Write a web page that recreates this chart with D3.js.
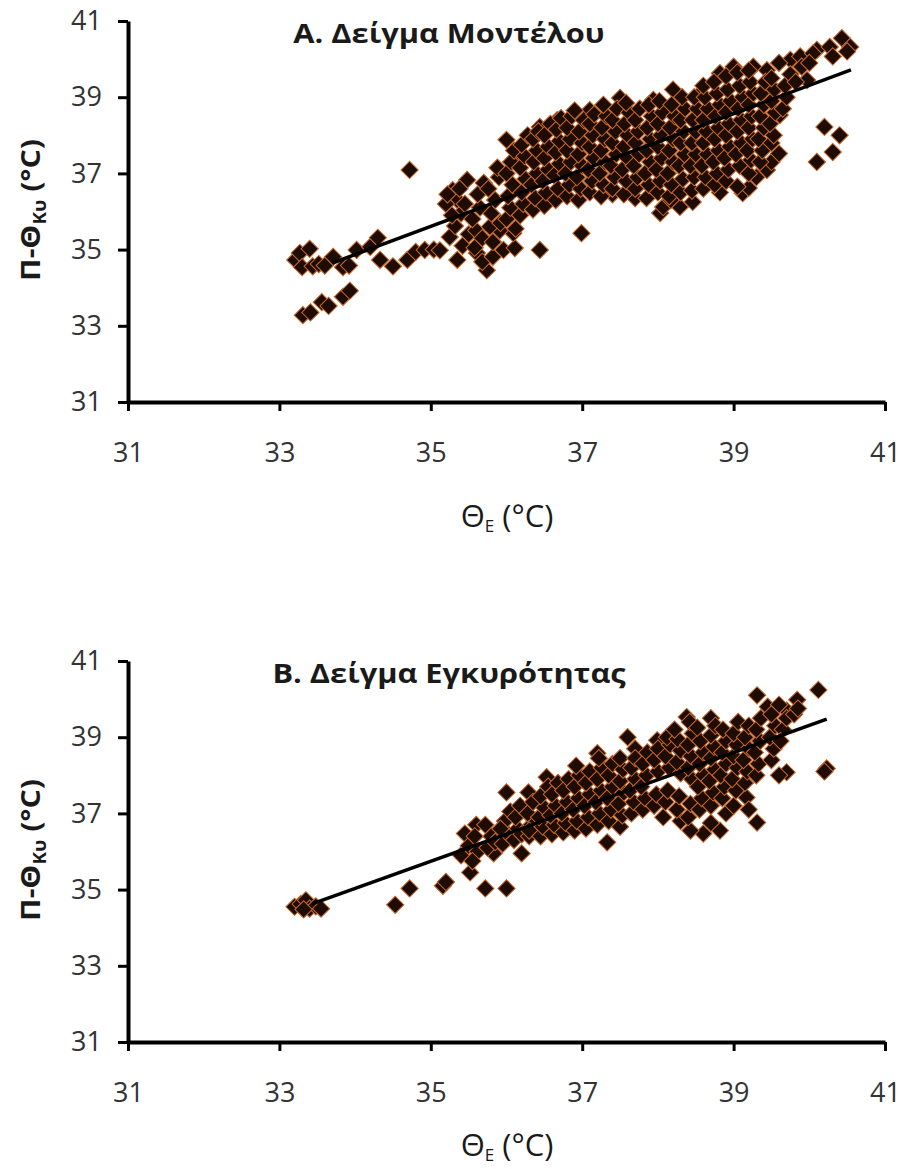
<html>
<head>
    <meta charset="utf-8">
    <title>Θ_E vs Π-Θ_Κυ</title>
</head>
<style>
    body { margin: 0; background: #fff; }
    .tick text { font-family: "Open Sans", "Noto Sans", sans-serif; font-size: 27px; fill: #333; }
    .axis path.domain { stroke: #000; stroke-width: 4; }
    .axis .tick line { stroke: #000; stroke-width: 3; }
    .title { font-family: "Open Sans", "Noto Sans", sans-serif; font-size: 27px; font-weight: bold; fill: #1a1a1a; text-anchor: middle; }
    .ylab { font-family: "Open Sans", "Noto Sans", sans-serif; font-size: 27px; font-weight: bold; fill: #1a1a1a; text-anchor: middle; }
    .xlab { font-family: "Open Sans", "Noto Sans", sans-serif; font-size: 31px; fill: #1a1a1a; text-anchor: middle; }
</style>
<body>
<script src="https://cdn.jsdelivr.net/npm/d3@7"></script>
<script>
    var width = 905;
    var height = 1169;

    // tick values, shared by both panels
    var xTicks = [31, 33, 35, 37, 39, 41];
    var yTicks = [31, 33, 35, 37, 39, 41];

    var titles = ["A. Δείγμα Μοντέλου", "B. Δείγμα Εγκυρότητας"];

    // linear trend lines: [slope, intercept, xStart, xEnd]
    var modelTrend = [0.74, 9.71, 33.7, 40.55];
    var validTrend = [0.713, 10.79, 33.44, 40.23];

    // A. model sample, [Θ_E, Π-Θ_Κυ]
    var modelSample = [
        [33.21,34.73],[33.27,34.91],[33.40,35.02],[33.30,34.54],[33.44,34.56],[33.52,34.62],[33.60,34.58],
        [33.71,34.81],[33.84,34.54],[33.92,34.58],[34.02,34.99],[34.20,35.07],[34.30,35.31],[34.33,34.73],
        [34.50,34.56],[34.69,34.73],[34.80,34.94],[34.92,34.99],[35.04,35.00],[35.12,34.98],[34.72,37.09],
        [33.31,33.28],[33.41,33.35],[33.56,33.62],[33.65,33.52],[33.84,33.76],[33.93,33.92],
        [35.25,35.33],[35.35,34.73],[35.61,34.91],[35.74,34.46],[35.68,34.68],[35.82,34.81],[35.96,34.99],
        [36.11,35.04],[36.09,35.43],[35.91,35.50],[36.44,34.99],[36.99,35.43],
        [35.29,36.56],[35.48,36.83],[35.35,36.30],[35.20,36.20],[35.22,36.45],
        [36.00,37.88],[36.14,37.54],[36.44,38.22],[36.67,38.40],[37.10,38.66],[37.50,38.98],[37.94,38.93],
        [38.20,39.20],[38.56,39.10],[38.82,39.63],[39.00,39.80],[39.26,39.80],[39.44,39.71],[39.75,39.98],
        [39.88,40.07],[40.10,40.24],[40.27,40.32],[40.43,40.55],[40.54,40.32],[40.50,40.20],[40.31,40.07],
        [39.97,39.45],[40.05,40.15],[39.60,39.90],
        [40.20,38.22],[40.40,38.00],[40.31,37.56],[40.10,37.30],[39.61,38.53],
        [39.12,36.48],[39.20,36.62],[39.44,37.09],[39.50,37.30],[39.60,37.52],[39.30,36.90],
        [38.03,35.96],[38.07,36.12],[38.29,36.12],[38.46,36.25],[38.17,36.30],[38.82,36.50],[37.70,36.35],[37.40,36.45],
        [35.32,35.62],[35.40,35.95],[35.28,35.90],[35.45,36.20],[35.38,36.60],[35.50,35.40],[35.42,35.10],
        [35.58,35.05],[35.60,35.50],[35.55,35.80],[35.65,36.10],[35.62,36.45],[35.70,36.75],[35.68,35.30],
        [35.78,35.60],[35.80,35.95],[35.85,36.30],[35.76,36.60],[35.90,36.90],[35.88,37.15],[35.82,35.20],[35.92,35.70],
        [36.00,35.80],[36.05,36.10],[36.02,36.40],[36.08,36.70],[36.00,37.00],[36.06,37.30],[36.10,37.60],[36.12,35.55],
        [36.18,35.90],[36.22,36.20],[36.20,36.50],[36.25,36.85],[36.18,37.15],[36.24,37.45],[36.20,37.75],[36.28,38.00],
        [36.35,36.05],[36.38,36.35],[36.33,36.70],[36.40,37.00],[36.36,37.30],[36.40,37.60],[36.35,37.90],[36.42,38.10],
        [36.50,36.15],[36.52,36.50],[36.48,36.80],[36.55,37.10],[36.50,37.40],[36.55,37.70],[36.50,38.00],[36.58,38.30],
        [36.65,36.30],[36.68,36.60],[36.63,36.95],[36.70,37.25],[36.65,37.55],[36.70,37.85],[36.66,38.15],[36.72,38.45],
        [36.80,36.40],[36.83,36.70],[36.78,37.00],[36.85,37.30],[36.80,37.60],[36.84,37.90],[36.80,38.20],[36.86,38.50],
        [36.95,36.30],[36.98,36.60],[36.93,36.90],[37.00,37.20],[36.95,37.50],[37.00,37.80],[36.96,38.10],[37.02,38.40],[36.90,38.65],
        [37.10,36.50],[37.13,36.80],[37.08,37.10],[37.15,37.40],[37.10,37.70],[37.14,38.00],[37.10,38.30],[37.16,38.55],
        [37.25,36.40],[37.28,36.70],[37.23,37.00],[37.30,37.30],[37.25,37.60],[37.30,37.90],[37.26,38.20],[37.32,38.50],[37.28,38.80],
        [37.40,36.60],[37.43,36.90],[37.38,37.20],[37.45,37.50],[37.40,37.80],[37.44,38.10],[37.40,38.40],[37.46,38.70],
        [37.55,36.45],[37.58,36.80],[37.53,37.10],[37.60,37.40],[37.55,37.70],[37.60,38.00],[37.56,38.30],[37.62,38.60],[37.58,38.85],
        [37.70,36.60],[37.73,36.90],[37.68,37.20],[37.75,37.50],[37.70,37.80],[37.74,38.10],[37.70,38.40],[37.76,38.70],
        [37.85,36.35],[37.88,36.70],[37.83,37.00],[37.90,37.30],[37.85,37.60],[37.90,37.90],[37.86,38.20],[37.92,38.50],[37.88,38.80],
        [38.00,36.50],[38.03,36.80],[37.98,37.10],[38.05,37.40],[38.00,37.70],[38.04,38.00],[38.00,38.30],[38.06,38.60],[38.02,38.90],
        [38.15,36.40],[38.18,36.70],[38.13,37.00],[38.20,37.30],[38.15,37.60],[38.20,37.90],[38.16,38.20],[38.22,38.50],[38.18,38.80],
        [38.30,36.50],[38.33,36.85],[38.28,37.20],[38.35,37.50],[38.30,37.80],[38.34,38.10],[38.30,38.40],[38.36,38.70],[38.32,39.00],
        [38.45,36.55],[38.48,36.90],[38.43,37.20],[38.50,37.50],[38.45,37.80],[38.50,38.10],[38.46,38.40],[38.52,38.70],[38.48,39.00],
        [38.60,36.60],[38.63,36.90],[38.58,37.20],[38.65,37.50],[38.60,37.80],[38.64,38.10],[38.60,38.40],[38.66,38.70],[38.62,39.00],[38.60,39.30],
        [38.75,36.70],[38.78,37.00],[38.73,37.30],[38.80,37.60],[38.75,37.90],[38.80,38.20],[38.76,38.50],[38.82,38.80],[38.78,39.10],[38.74,39.40],
        [38.90,36.80],[38.93,37.10],[38.88,37.40],[38.95,37.70],[38.90,38.00],[38.94,38.30],[38.90,38.60],[38.96,38.90],[38.92,39.20],[38.90,39.55],
        [39.05,36.65],[39.08,37.20],[39.03,37.50],[39.10,37.80],[39.05,38.10],[39.10,38.40],[39.06,38.70],[39.12,39.00],[39.08,39.30],[39.05,39.65],
        [39.20,37.00],[39.23,37.35],[39.18,37.60],[39.25,37.90],[39.20,38.20],[39.24,38.50],[39.20,38.80],[39.26,39.10],[39.22,39.40],[39.20,39.70],
        [39.35,37.30],[39.38,37.60],[39.33,37.90],[39.40,38.20],[39.35,38.50],[39.40,38.80],[39.36,39.10],[39.42,39.40],
        [39.50,37.80],[39.53,38.00],[39.48,38.30],[39.55,38.60],[39.50,38.90],[39.54,39.20],[39.50,39.50],
        [39.65,38.70],[39.70,39.00],[39.68,39.30],[39.75,39.60],
        [39.82,39.40],[39.90,39.80],[40.00,39.90]
    ];

    // B. validation sample, [Θ_E, Π-Θ_Κυ]
    var validSample = [
        [33.20,34.55],[33.28,34.62],[33.35,34.72],[33.40,34.50],[33.48,34.56],[33.55,34.50],[33.32,34.48],
        [34.53,34.60],[34.72,35.03],[35.16,35.10],[35.20,35.20],[35.72,35.03],[36.00,35.03],[35.52,35.45],
        [35.83,35.95],[36.20,35.95],[35.45,36.47],[35.60,36.70],[36.00,37.55],[36.29,37.55],[36.53,37.95],
        [37.20,38.58],[37.60,39.00],[37.70,38.70],[37.99,38.92],[38.38,39.53],[38.70,39.50],[39.31,40.10],
        [39.45,39.80],[39.84,39.98],[40.12,40.24],[39.70,39.70],[39.60,39.85],
        [40.23,38.18],[40.20,38.10],[39.70,38.08],[39.60,38.00],[39.17,37.42],[39.20,37.10],[39.31,36.76],
        [38.60,36.47],[38.43,36.55],[38.82,36.55],[38.70,36.75],[38.30,36.80],[38.07,36.90],[37.33,36.24],[38.90,37.00],
        [35.40,35.90],[35.50,36.15],[35.58,36.40],[35.62,36.00],[35.55,35.75],
        [35.75,36.10],[35.80,36.40],[35.72,36.70],[35.85,36.25],
        [35.95,36.20],[36.00,36.50],[35.98,36.80],[36.05,37.05],[35.92,36.60],
        [36.10,36.30],[36.15,36.60],[36.12,36.90],[36.18,37.20],[36.20,36.45],
        [36.30,36.40],[36.33,36.70],[36.28,37.00],[36.35,37.30],[36.30,36.55],
        [36.45,36.40],[36.48,36.65],[36.43,36.90],[36.50,37.15],[36.45,37.45],[36.55,37.70],
        [36.60,36.45],[36.63,36.70],[36.58,36.95],[36.65,37.20],[36.60,37.50],[36.68,37.80],
        [36.75,36.50],[36.78,36.75],[36.73,37.00],[36.80,37.30],[36.75,37.60],[36.82,37.90],
        [36.90,36.55],[36.93,36.80],[36.88,37.10],[36.95,37.40],[36.90,37.70],[36.96,38.00],[36.92,38.25],
        [37.05,36.60],[37.08,36.90],[37.03,37.20],[37.10,37.50],[37.05,37.80],[37.10,38.10],
        [37.20,36.70],[37.23,37.00],[37.18,37.30],[37.25,37.60],[37.20,37.90],[37.26,38.20],[37.22,38.45],
        [37.35,36.80],[37.38,37.10],[37.33,37.40],[37.40,37.70],[37.35,38.00],[37.40,38.30],
        [37.50,36.65],[37.53,36.95],[37.48,37.25],[37.55,37.55],[37.50,37.85],[37.54,38.15],[37.50,38.45],
        [37.65,37.00],[37.68,37.30],[37.63,37.60],[37.70,37.90],[37.65,38.20],[37.70,38.45],
        [37.80,37.10],[37.83,37.40],[37.78,37.70],[37.85,38.00],[37.80,38.30],[37.86,38.60],
        [37.95,37.20],[37.98,37.50],[38.00,38.10],[37.95,38.40],[38.00,38.70],
        [38.10,37.30],[38.13,37.60],[38.15,38.20],[38.10,38.50],[38.16,38.80],[38.12,39.00],
        [38.25,37.10],[38.28,37.45],[38.30,38.05],[38.25,38.35],[38.30,38.65],[38.26,38.95],[38.22,39.20],
        [38.40,36.90],[38.43,37.25],[38.45,37.90],[38.40,38.20],[38.44,38.50],[38.40,38.80],[38.46,39.10],[38.42,39.40],
        [38.55,37.10],[38.58,37.40],[38.53,37.70],[38.60,38.00],[38.55,38.30],[38.60,38.60],[38.56,38.90],[38.52,39.25],
        [38.70,37.20],[38.73,37.55],[38.68,37.85],[38.75,38.15],[38.70,38.45],[38.74,38.75],[38.70,39.05],[38.76,39.30],
        [38.85,37.40],[38.88,37.70],[38.83,38.00],[38.90,38.30],[38.85,38.60],[38.90,38.90],[38.86,39.20],
        [39.00,37.20],[39.03,37.60],[38.98,37.90],[39.05,38.20],[39.00,38.50],[39.04,38.80],[39.00,39.10],[39.06,39.40],
        [39.15,37.80],[39.18,38.10],[39.13,38.40],[39.20,38.70],[39.15,39.00],[39.20,39.30],
        [39.30,38.00],[39.33,38.30],[39.28,38.60],[39.35,38.90],[39.30,39.20],[39.36,39.50],
        [39.50,38.40],[39.53,38.70],[39.48,39.00],[39.55,39.30],[39.50,39.60],
        [39.65,39.20],[39.70,39.50],[39.62,38.90],
        [39.80,39.60],[39.85,39.75]
    ];

    var svg = d3.select("body").append("svg")
            .attr("width", width)
            .attr("height", height);

    var x = d3.scaleLinear().domain([31, 41]).range([128, 885]);
    var y = d3.scaleLinear().domain([31, 41]).range([402, 21]);

    var diamond = d3.symbol().type(d3.symbolSquare).size(150);

    function drawPanel(offsetY, title, points, trend, xlabY) {
        var g = svg.append("g").attr("transform", "translate(0," + offsetY + ")");

        // points
        g.selectAll("path.pt")
                .data(points)
                .enter()
                .append("path")
                .attr("class", "pt")
                .attr("d", diamond)
                .attr("transform", function (d) {
                    return "translate(" + x(d[0]) + "," + y(d[1]) + ") rotate(45)";
                })
                .attr("fill", "#1e0b02")
                .attr("stroke", "#c8692a")
                .attr("stroke-width", 1);

        // trend line
        var x0 = trend[2], x1 = trend[3];
        g.append("line")
                .attr("x1", x(x0))
                .attr("y1", y(trend[0] * x0 + trend[1]))
                .attr("x2", x(x1))
                .attr("y2", y(trend[0] * x1 + trend[1]))
                .attr("stroke", "#000")
                .attr("stroke-width", 3.5);

        // axes
        g.append("g")
                .attr("class", "axis")
                .attr("transform", "translate(0," + y(31) + ")")
                .call(d3.axisBottom(x).tickValues(xTicks).tickSize(9).tickSizeOuter(0).tickPadding(32));

        g.append("g")
                .attr("class", "axis")
                .attr("transform", "translate(" + x(31) + ",0)")
                .call(d3.axisLeft(y).tickValues(yTicks).tickSize(10).tickSizeOuter(0).tickPadding(16));

        g.append("text")
                .attr("class", "title")
                .attr("transform", "translate(449,43) scale(1.14,1)")
                .text(title);

        // y label  Π-Θ_Κυ (°C)
        var yl = g.append("text")
                .attr("class", "ylab")
                .attr("transform", "translate(40,210) rotate(-90) scale(1.12,1)");
        yl.append("tspan").text("Π-Θ");
        yl.append("tspan").attr("font-size", "17px").attr("dy", 6).text("Κυ");
        yl.append("tspan").attr("dy", -6).text(" (°C)");

        // x label  Θ_E (°C)
        var xl = g.append("text")
                .attr("class", "xlab")
                .attr("x", 507)
                .attr("y", xlabY);
        xl.append("tspan").text("Θ");
        xl.append("tspan").attr("font-size", "17px").attr("dy", 5).text("Ε");
        xl.append("tspan").attr("dy", -5).text(" (°C)");
    }

    drawPanel(0, titles[0], modelSample, modelTrend, 527);
    drawPanel(640, titles[1], validSample, validTrend, 516);
</script>
</body>
</html>
